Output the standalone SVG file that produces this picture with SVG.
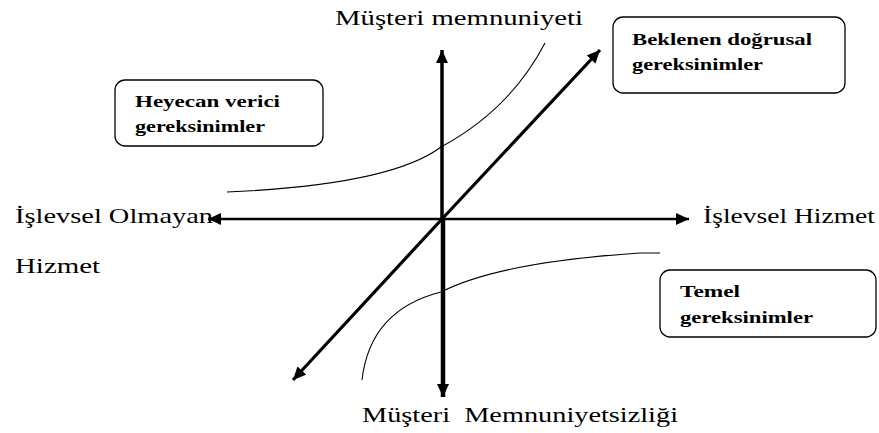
<svg xmlns="http://www.w3.org/2000/svg" width="879" height="433" viewBox="0 0 879 433">
<style>
.lbl{font-family:"Liberation Serif","Times New Roman",serif;font-size:21px;fill:#000}
.bx{font-family:"Liberation Serif","DejaVu Serif",serif;font-size:16px;font-weight:bold;fill:#000}
.box{fill:#fff;stroke:#000;stroke-width:1.3}
.ax{stroke:#000;fill:none}
.crv{stroke:#000;stroke-width:1.1;fill:none}
.pre{white-space:pre}
</style>
<defs>
<marker id="ah" markerUnits="userSpaceOnUse" markerWidth="14" markerHeight="12" refX="13" refY="6" orient="auto">
<path d="M0,0 L13,6 L0,12 Z" fill="#000"/>
</marker>
</defs>
<rect width="879" height="433" fill="#fff"/>
<g id="connectors">
<line class="ax" x1="442" y1="219" x2="208" y2="219" stroke-width="2.6" marker-end="url(#ah)"/>
<line class="ax" x1="442" y1="219" x2="689" y2="219" stroke-width="2.6" marker-end="url(#ah)"/>
<line class="ax" x1="442" y1="219" x2="442" y2="50" stroke-width="3.5" marker-end="url(#ah)"/>
<line class="ax" x1="443" y1="219" x2="443" y2="397" stroke-width="4.5" marker-end="url(#ah)"/>
<line class="ax" x1="442" y1="219" x2="600" y2="50" stroke-width="3.2" marker-end="url(#ah)"/>
<line class="ax" x1="442" y1="219" x2="293" y2="380" stroke-width="3.2" marker-end="url(#ah)"/>
<path class="crv" d="M227,192 Q390,185 441,147 Q510,110 545,43"/>
<path class="crv" d="M660,253 L640,253 Q500,262 441,292 Q370,310 362,380"/>
</g>
<g id="axis-top"><text class="lbl" x="335" y="25" textLength="248" lengthAdjust="spacingAndGlyphs">Müşteri memnuniyeti</text></g>
<g id="axis-left">
<text class="lbl" x="15" y="223" textLength="198" lengthAdjust="spacingAndGlyphs">İşlevsel Olmayan</text>
<text class="lbl" x="15" y="273" textLength="85" lengthAdjust="spacingAndGlyphs">Hizmet</text>
</g>
<g id="axis-right"><text class="lbl" x="703" y="223" textLength="172" lengthAdjust="spacingAndGlyphs">İşlevsel Hizmet</text></g>
<g id="axis-bottom"><text class="lbl pre" x="362" y="422" textLength="316" lengthAdjust="spacingAndGlyphs">Müşteri  Memnuniyetsizliği</text></g>
<g id="heyecan">
<rect class="box" x="115" y="80" width="208" height="66" rx="10"/>
<text class="bx" x="135" y="107" textLength="145" lengthAdjust="spacingAndGlyphs">Heyecan verici</text>
<text class="bx" x="135" y="132" textLength="130" lengthAdjust="spacingAndGlyphs">gereksinimler</text>
</g>
<g id="beklenen">
<rect class="box" x="613" y="17" width="232" height="76" rx="10"/>
<text class="bx" x="632" y="45" textLength="180" lengthAdjust="spacingAndGlyphs">Beklenen doğrusal</text>
<text class="bx" x="632" y="70" textLength="131" lengthAdjust="spacingAndGlyphs">gereksinimler</text>
</g>
<g id="temel">
<rect class="box" x="660" y="270" width="216" height="67" rx="10"/>
<text class="bx" x="680" y="297" textLength="60" lengthAdjust="spacingAndGlyphs">Temel</text>
<text class="bx" x="680" y="323" textLength="133" lengthAdjust="spacingAndGlyphs">gereksinimler</text>
</g>
</svg>
